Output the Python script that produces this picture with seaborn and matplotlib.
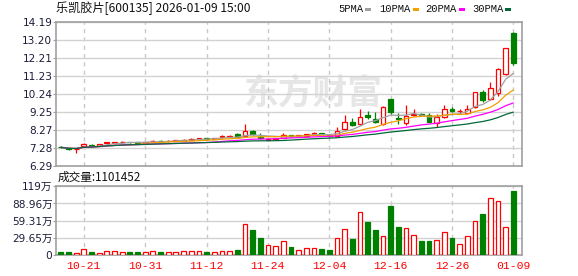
import numpy as np
import pandas as pd
import matplotlib
matplotlib.use("Agg")
import matplotlib.pyplot as plt
from matplotlib.patches import Rectangle
import seaborn as sns

# ---------------- data ----------------
dates = ["10-16", "10-17", "10-20", "10-21", "10-22", "10-23", "10-24", "10-27", "10-28", "10-29",
         "10-30", "10-31", "11-03", "11-04", "11-05", "11-06", "11-07", "11-10", "11-11", "11-12",
         "11-13", "11-14", "11-17", "11-18", "11-19", "11-20", "11-21", "11-24", "11-25", "11-26",
         "11-27", "11-28", "12-01", "12-02", "12-03", "12-04", "12-05", "12-08", "12-09", "12-10",
         "12-11", "12-12", "12-15", "12-16", "12-17", "12-18", "12-19", "12-22", "12-23", "12-24",
         "12-25", "12-26", "12-29", "12-30", "12-31", "01-05", "01-06", "01-07", "01-08", "01-09"]

opens = [7.37, 7.29, 7.22, 7.41, 7.48, 7.41, 7.57, 7.56, 7.60, 7.63,
         7.62, 7.59, 7.66, 7.70, 7.66, 7.69, 7.69, 7.75, 7.78, 7.83,
         7.80, 7.88, 7.90, 8.08, 7.96, 8.22, 7.90, 7.76, 7.80, 7.87,
         8.00, 7.95, 7.95, 8.06, 8.09, 8.02, 7.97, 8.32, 8.74, 8.60,
         9.10, 8.88, 8.60, 9.98, 8.96, 8.69, 9.10, 9.15, 9.11, 8.66,
         8.99, 9.43, 9.30, 9.21, 9.53, 10.36, 9.99, 10.30, 11.35, 13.61]
highs = [7.40, 7.31, 7.28, 7.57, 7.51, 7.53, 7.65, 7.64, 7.67, 7.64,
         7.63, 7.65, 7.74, 7.71, 7.72, 7.74, 7.77, 7.82, 7.87, 7.85,
         7.87, 8.03, 8.01, 8.10, 8.62, 8.30, 8.10, 7.80, 7.86, 8.10,
         8.02, 8.00, 8.08, 8.16, 8.11, 8.04, 8.47, 9.11, 8.93, 9.43,
         9.33, 9.26, 9.58, 9.99, 9.21, 9.66, 9.43, 9.24, 9.21, 9.15,
         9.66, 9.55, 9.45, 9.66, 10.38, 10.49, 10.94, 11.68, 12.80, 13.65]
lows = [7.30, 7.19, 7.04, 7.40, 7.39, 7.40, 7.50, 7.54, 7.58, 7.59,
        7.52, 7.57, 7.62, 7.65, 7.63, 7.68, 7.68, 7.74, 7.76, 7.78,
        7.78, 7.86, 7.88, 7.90, 7.93, 8.02, 7.80, 7.73, 7.78, 7.85,
        7.93, 7.93, 7.94, 7.98, 8.04, 7.92, 7.95, 8.30, 8.51, 8.57,
        8.88, 8.69, 8.56, 9.15, 8.60, 8.56, 9.06, 9.04, 8.72, 8.47,
        8.93, 9.27, 9.24, 9.15, 9.50, 9.84, 9.94, 10.17, 11.30, 11.86]
closes = [7.33, 7.22, 7.25, 7.53, 7.41, 7.52, 7.60, 7.60, 7.64, 7.61,
          7.56, 7.63, 7.70, 7.67, 7.70, 7.72, 7.75, 7.78, 7.84, 7.80,
          7.84, 7.93, 7.95, 7.92, 8.20, 8.05, 7.82, 7.78, 7.84, 8.03,
          7.96, 7.98, 8.05, 8.10, 8.06, 7.94, 8.25, 8.71, 8.56, 8.99,
          8.99, 8.71, 9.54, 9.26, 8.91, 9.07, 9.17, 9.08, 8.74, 9.02,
          9.43, 9.35, 9.32, 9.43, 10.36, 9.94, 10.58, 11.64, 12.80, 11.96]
# volume in 万 (10k)
volumes = [4.0, 4.0, 3.5, 10.5, 5.0, 3.5, 7.0, 7.0, 5.0, 5.5,
           5.5, 5.0, 7.0, 5.5, 5.0, 5.0, 7.0, 7.0, 7.0, 5.5,
           5.0, 7.0, 7.0, 9.0, 54.0, 43.5, 29.5, 17.0, 15.0, 24.0,
           14.0, 8.2, 11.7, 11.7, 10.0, 8.2, 28.7, 44.4, 27.5, 74.2,
           57.2, 43.2, 32.2, 85.2, 48.5, 46.2, 34.0, 24.0, 24.0, 25.2,
           39.7, 29.2, 18.7, 32.2, 59.0, 70.0, 98.7, 94.0, 48.5, 110.1452]

date_tick_labels = ["10-21", "10-31", "11-12", "11-24", "12-04", "12-16", "12-26", "01-09"]
price_ticks = [6.29, 7.28, 8.27, 9.25, 10.24, 11.23, 12.21, 13.20, 14.19]
price_tick_labels = ["6.29", "7.28", "8.27", "9.25", "10.24", "11.23", "12.21", "13.20", "14.19"]
vol_ticks = [0, 29.655, 59.31, 88.965, 118.62]
vol_tick_labels = ["0", "29.65万", "59.31万", "88.96万", "119万"]
ma_windows = [5, 10, 20, 30]
ma_names = ["5PMA", "10PMA", "20PMA", "30PMA"]
ma_colors = ["#a0a0a0", "#f0a000", "#ff00ff", "#00693a"]
title_text = "乐凯胶片[600135] 2026-01-09 15:00"
vol_title = "成交量:1101452"

# ---------------- style ----------------
sns.set_theme(style="white")
plt.rcParams["font.family"] = ["DejaVu Sans", "Noto Sans CJK SC"]
CJK = ["Noto Sans CJK SC", "DejaVu Sans"]
RED = "#ff0000"
GREEN = "#008000"
SPINE = "#a0a0a0"
HGRID = "#d2d2d2"
VGRID = "#c8c8c8"
LABEL = "#1c1c3a"

W, H = 578, 276
fig = plt.figure(figsize=(W / 100, H / 100), dpi=100)
fig.patch.set_facecolor("white")

def fx(px):
    return px / W

def fy(py):
    return 1 - py / H

left, right = 56, 522.3
ax_p = fig.add_axes([fx(left), fy(166.3), (right - left) / W, (166.3 - 22.3) / H])
ax_v = fig.add_axes([fx(left), fy(254.8), (right - left) / W, (254.8 - 186.3) / H])

df = pd.DataFrame({"date": dates, "open": opens, "high": highs, "low": lows,
                   "close": closes, "vol": volumes})
df["i"] = np.arange(len(df))
df["up"] = df["close"] >= df["open"]
edge_cols = np.where(df["up"], RED, GREEN)
face_cols = np.where(df["up"], "white", GREEN)
for w in ma_windows:
    df[f"ma{w}"] = df["close"].rolling(w, min_periods=1).mean()

tick_pos = [dates.index(d) for d in date_tick_labels]
xlim = (-0.63, len(df) - 1 + 1.17)

# ---------------- price panel ----------------
ax = ax_p
ax.set_axisbelow(True)
ax.vlines(df["i"], df["low"], df["high"], colors=edge_cols, linewidth=0.9, zorder=2)
body_bottom = np.minimum(df["open"], df["close"])
body_h = np.maximum((df["close"] - df["open"]).abs(), 0.012)
ax.bar(df["i"], body_h, bottom=body_bottom, width=0.62, color=face_cols,
       edgecolor=edge_cols, linewidth=0.9, zorder=3)
for w, c in zip(ma_windows, ma_colors):
    sns.lineplot(x=df["i"], y=df[f"ma{w}"], ax=ax, color=c, linewidth=0.9,
                 zorder=4, legend=False)
ax.set_xlim(*xlim)
ax.set_ylim(price_ticks[0], price_ticks[-1])
ax.set_yticks(price_ticks)
ax.set_yticklabels(price_tick_labels)
ax.set_xticks(tick_pos)
ax.set_xticklabels([])
ax.set_xlabel("")
ax.set_ylabel("")
ax.tick_params(axis="y", length=2, width=0.8, color=SPINE, pad=0.6,
               labelsize=7.6, labelcolor=LABEL, left=True)
ax.tick_params(axis="x", length=0)
ax.yaxis.grid(True, color=HGRID, linewidth=1.0, linestyle="-")
ax.xaxis.grid(True, color=VGRID, linewidth=1.0, linestyle=(0, (3, 3)))
for s in ax.spines.values():
    s.set_color(SPINE)
    s.set_linewidth(1.2)
ax.text((313 - left) / (right - left), (166.3 - 93) / 144.0, "东方财富",
        transform=ax.transAxes, ha="center", va="center", fontsize=25,
        fontweight="bold", color="#e6e6e6", family=CJK, zorder=0.3)

# ---------------- volume panel ----------------
ax = ax_v
ax.set_axisbelow(True)
ax.bar(df["i"], df["vol"], width=0.62, color=face_cols, edgecolor=edge_cols,
       linewidth=0.9, zorder=3)
ax.set_xlim(*xlim)
ax.set_ylim(vol_ticks[0], vol_ticks[-1])
ax.set_yticks(vol_ticks)
ax.set_yticklabels(vol_tick_labels)
ax.set_xticks(tick_pos)
ax.set_xticklabels(date_tick_labels, family=["Liberation Mono", "DejaVu Sans Mono"],
                   fontsize=8.2, color=RED)
ax.set_xlabel("")
ax.set_ylabel("")
ax.tick_params(axis="y", length=2, width=0.8, color=SPINE, pad=0.6,
               labelsize=7.6, labelcolor=LABEL, left=True)
ax.tick_params(axis="x", length=0, pad=4.5)
ax.yaxis.grid(True, color=HGRID, linewidth=1.0, linestyle="-")
ax.xaxis.grid(True, color=VGRID, linewidth=1.0, linestyle=(0, (3, 3)))
for s in ax.spines.values():
    s.set_color(SPINE)
    s.set_linewidth(1.2)

# ---------------- header texts ----------------
fig.text(fx(56), fy(8.7), title_text, ha="left", va="center", fontsize=8.7,
         family=CJK, color="#111111")
fig.text(fx(57.5), fy(177), vol_title, ha="left", va="center", fontsize=8.4,
         family=CJK, color="#111111")

legend_text_x = [338, 379, 425, 472]
legend_box_x = [365, 413, 459, 505]
for name, c, tx, bx in zip(ma_names, ma_colors, legend_text_x, legend_box_x):
    fig.text(fx(tx), fy(9.2), name, ha="left", va="center", fontsize=7.6,
             family=["Liberation Mono", "DejaVu Sans Mono"], color="#111111")
    fig.patches.append(Rectangle((fx(bx), fy(10.6)), 5.5 / W, 3 / H,
                                 transform=fig.transFigure, facecolor=c,
                                 edgecolor="none"))

fig.savefig("out.png", dpi=100, facecolor="white")
